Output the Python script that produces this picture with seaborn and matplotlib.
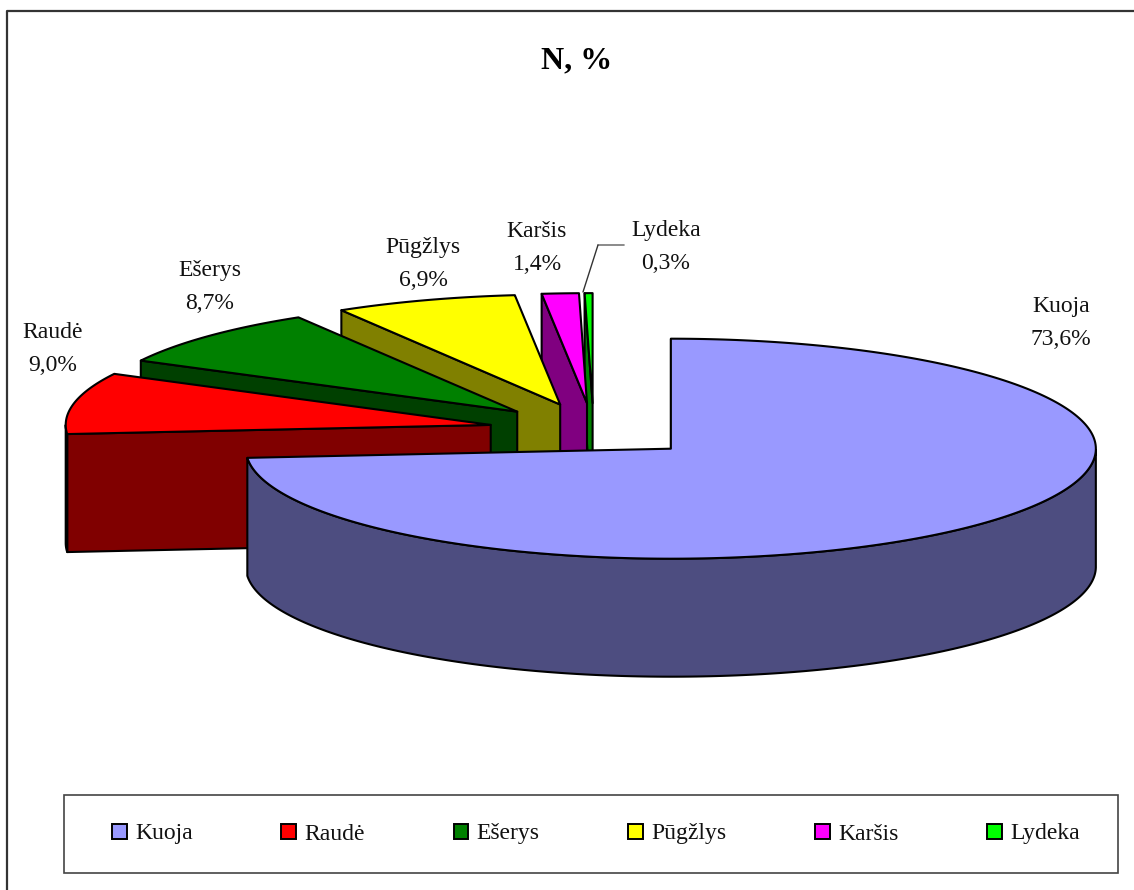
import numpy as np
import seaborn as sns
import matplotlib.pyplot as plt
from matplotlib.patches import Patch, Polygon, Rectangle

sns.set_style("white")
plt.rcParams["font.family"] = ["Liberation Serif", "DejaVu Serif"]

# Chart data
species = ["Kuoja", "Raudė", "Ešerys", "Pūgžlys", "Karšis", "Lydeka"]
percent = [73.6, 9.0, 8.7, 6.9, 1.4, 0.3]
pct_labels = ["73,6%", "9,0%", "8,7%", "6,9%", "1,4%", "0,3%"]
top_colours = ["#9999FF", "#FF0000", "#008000", "#FFFF00", "#FF00FF", "#00FF00"]

# Label centres, in pixels of the 1134x890 canvas
label_x = [1061, 53, 210, 423, 537, 666]
label_y = [323, 349, 287, 264, 248, 247]

# Geometry of the tilted pie
cx, cy = 593.6, 430.3
rx, ry = 425, 110
depth = 118
explode = 0.247

palette = sns.color_palette(top_colours)
side_colours = [tuple(c * 0.5 for c in col) for col in palette]


def rim(angles):
    """Points on the ellipse for angles in degrees."""
    t = np.radians(angles)
    return np.column_stack([rx * np.cos(t), -ry * np.sin(t)])


fig = plt.figure(figsize=(11.34, 8.9), dpi=100)
ax = fig.add_axes([0, 0, 1, 1])
ax.set_xlim(0, 1134)
ax.set_ylim(890, 0)
ax.axis("off")

# Outer chart frame: only the top and left edges fall inside the crop
ax.plot([7, 7, 1134], [890, 11, 11], color="#333333", lw=1.6)

sweeps = np.array(percent) / sum(percent) * 360
starts = 90 - np.concatenate([[0], np.cumsum(sweeps)[:-1]])
edge = dict(edgecolor="black", linewidth=1.5, joinstyle="round")

# Painter's order: back slices first, Kuoja last
for i in range(len(species) - 1, -1, -1):
    a0, a1 = starts[i], starts[i] - sweeps[i]
    mid = np.radians((a0 + a1) / 2)
    apex = np.array([cx + explode * rx * np.cos(mid), cy - explode * ry * np.sin(mid)])
    down = np.array([0, depth])

    # Cut face along the leading radius
    p = apex + rim([a0])[0]
    ax.add_patch(Polygon([apex, p, p + down, apex + down], facecolor=side_colours[i], **edge))

    # Outer wall, only the part facing the viewer
    angles = np.linspace(a0, a1, 300)
    angles = angles[np.sin(np.radians(angles)) <= 0]
    if len(angles) > 1:
        arc = apex + rim(angles)
        ax.add_patch(Polygon(np.vstack([arc, (arc + down)[::-1]]), facecolor=side_colours[i], **edge))

    # Top surface
    arc = apex + rim(np.linspace(a0, a1, 300))
    ax.add_patch(Polygon(np.vstack([apex, arc]), facecolor=palette[i], **edge))

# Data labels
for name, pct, x, y in zip(species, pct_labels, label_x, label_y):
    ax.text(x, y, name + "\n" + pct, ha="center", va="center", fontsize=17, color="#111111", linespacing=1.72)

# Leader line for Lydeka
ax.plot([624, 598], [245, 245], color="#777777", lw=1.2)
ax.plot([598, 583], [245, 292], color="#333333", lw=1)

ax.text(577, 61, "N, %", ha="center", va="center", fontsize=23, fontweight="bold", color="black")

# Legend
ax.add_patch(Rectangle((64, 795), 1054, 77.5, facecolor="white", edgecolor="#444444", lw=1.2))
handles = [Patch(facecolor=c, edgecolor="black", linewidth=1.4) for c in palette]
ax.legend(handles, species, ncol=6, loc="center", bbox_to_anchor=(596, 834), bbox_transform=ax.transData,
          frameon=False, fontsize=17, handlelength=0.62, handleheight=0.62, handletextpad=0.36,
          columnspacing=3.75, labelcolor="#111111")

fig.savefig("out.png", dpi=100)
